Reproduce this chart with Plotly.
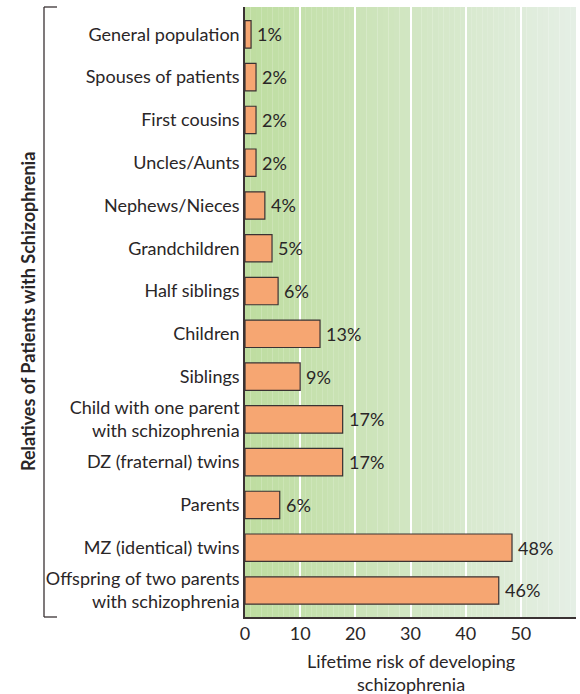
import plotly.graph_objects as go

categories = [
    "General population",
    "Spouses of patients",
    "First cousins",
    "Uncles/Aunts",
    "Nephews/Nieces",
    "Grandchildren",
    "Half siblings",
    "Children",
    "Siblings",
    "Child with one parent<br>with schizophrenia",
    "DZ (fraternal) twins",
    "Parents",
    "MZ (identical) twins",
    "Offspring of two parents<br>with schizophrenia",
]
bar_lengths = [1.1, 2.0, 2.0, 2.0, 3.6, 4.9, 6.0, 13.6, 10.0, 17.7, 17.7, 6.3, 48.4, 46.0]
value_labels = ["1%", "2%", "2%", "2%", "4%", "5%", "6%", "13%", "9%", "17%", "17%", "6%", "48%", "46%"]
x_ticks = [0, 10, 20, 30, 40, 50]

FONT = "Lato"
TXT = "#2a2627"
FS = 18

L, R, T, B = 245, 4, 7, 77
PW, PH = 580 - L - R, 694 - T - B

positions = list(range(len(categories)))

fig = go.Figure()
fig.add_trace(go.Bar(
    x=bar_lengths,
    y=positions,
    orientation="h",
    width=0.64,
    marker=dict(color="#F6A672", line=dict(color="#3a3233", width=1.2)),
    hoverinfo="skip",
))

# gradient background (styling)
shapes = []
n = 60
c0 = (190, 221, 160)
c1 = (229, 239, 229)
for i in range(n):
    t = i / (n - 1)
    col = tuple(round(c0[k] + (c1[k] - c0[k]) * t) for k in range(3))
    shapes.append(dict(type="rect", xref="x", yref="y domain", x0=i, x1=i + 1.02,
                       y0=0, y1=1, fillcolor="rgb(%d,%d,%d)" % col,
                       line=dict(width=0), layer="below"))

# bracket on left
bx0 = (44 - L) / PW
bx1 = (57 - L) / PW
bline = dict(color="#3a3233", width=1.3)
shapes.append(dict(type="line", xref="paper", yref="paper", x0=bx0, x1=bx0, y0=0, y1=1, line=bline))
shapes.append(dict(type="line", xref="paper", yref="paper", x0=bx0, x1=bx1, y0=1, y1=1, line=bline))
shapes.append(dict(type="line", xref="paper", yref="paper", x0=bx0, x1=bx1, y0=0, y1=0, line=bline))

annotations = [
    dict(
        text="<b>Relatives of Patients with Schizophrenia</b>",
        xref="paper", yref="paper", x=(28 - L) / PW, y=0.5,
        textangle=-90, showarrow=False, xanchor="center", yanchor="middle",
        font=dict(family=FONT, size=FS, color=TXT),
    ),
    dict(
        text="Lifetime risk of developing<br>schizophrenia",
        xref="paper", yref="paper", x=0.5, y=-(648 - (T + PH)) / PH,
        showarrow=False, xanchor="center", yanchor="top", align="center",
        font=dict(family=FONT, size=FS, color=TXT),
    ),
]
for val, pos, lab in zip(bar_lengths, positions, value_labels):
    annotations.append(dict(
        text=lab, x=val, y=pos, xref="x", yref="y",
        xanchor="left", yanchor="middle", xshift=4, showarrow=False,
        font=dict(family=FONT, size=FS, color=TXT),
    ))

fig.update_layout(
    width=580, height=694,
    margin=dict(l=L, r=R, t=T, b=B),
    paper_bgcolor="white",
    plot_bgcolor="white",
    showlegend=False,
    shapes=shapes,
    font=dict(family=FONT, size=FS, color=TXT),
    xaxis=dict(
        range=[0, 60],
        automargin=False,
        tickvals=x_ticks,
        ticktext=[str(v) for v in x_ticks],
        showgrid=True, gridcolor="white", gridwidth=2,
        zeroline=False,
        showline=True, linecolor="#3a3233", linewidth=1.5,
        ticks="", ticklen=0,
        tickfont=dict(family=FONT, size=FS, color=TXT),
    ),
    yaxis=dict(
        range=[13.62, -0.64],
        automargin=False,
        tickvals=positions,
        ticktext=categories,
        showgrid=False, zeroline=False,
        showline=True, linecolor="#3a3233", linewidth=1.5,
        ticks="", ticklen=0,
        tickfont=dict(family=FONT, size=FS, color=TXT),
    ),
    annotations=annotations,
)

fig.write_html(
    "out.html",
    config={"displayModeBar": False},
    post_script="document.body.style.margin='0';document.body.style.padding='0';"
                "document.body.style.overflow='hidden';",
)
